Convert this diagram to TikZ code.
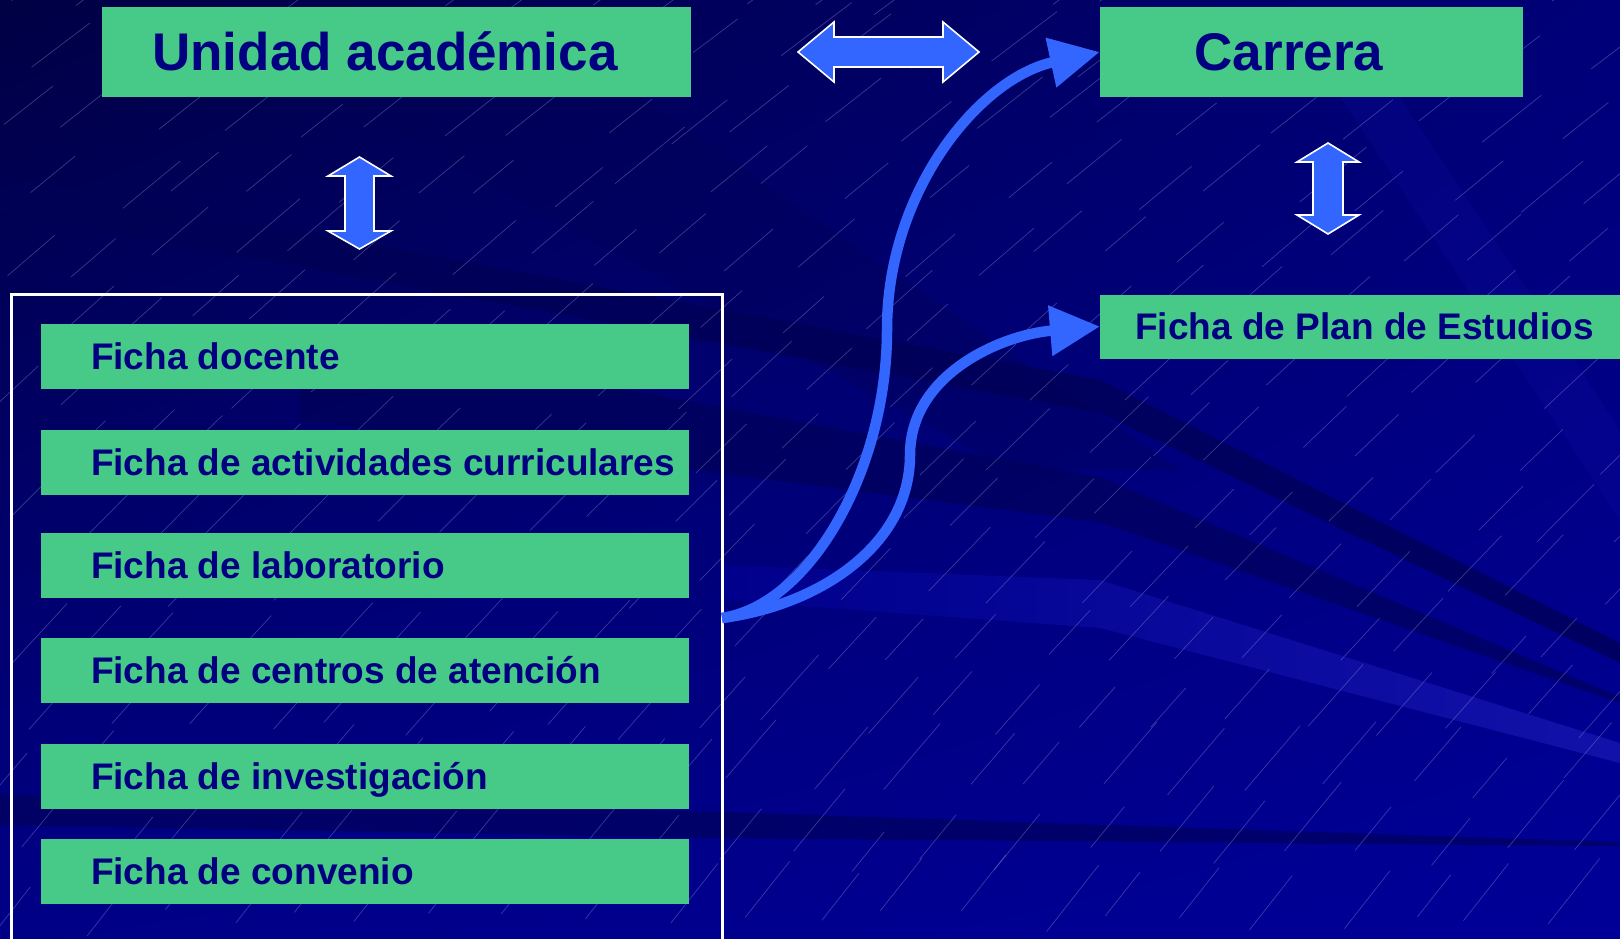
\documentclass[tikz,border=0pt]{standalone}
\usepackage{fontspec}
\setmainfont{Liberation Sans}
\usetikzlibrary{arrows.meta,shadings}
\definecolor{bgTL}{RGB}{0,0,68}
\definecolor{bgTR}{RGB}{0,0,120}
\definecolor{bgBL}{RGB}{0,0,135}
\definecolor{bgBR}{RGB}{0,0,152}
\definecolor{bandDark}{RGB}{0,0,85}
\definecolor{bandLight}{RGB}{18,18,170}
\definecolor{bandFade}{RGB}{0,0,140}
\definecolor{rainc}{RGB}{150,150,215}
\definecolor{boxgreen}{RGB}{71,201,135}
\definecolor{navytext}{RGB}{0,0,128}
\definecolor{arrowblue}{RGB}{51,102,255}
\tikzset{
  greenbox/.style={fill=boxgreen, text=navytext, inner sep=0pt},
  headbox/.style={greenbox, font=\fontsize{53}{60}\selectfont\bfseries, text height=38pt, text depth=0pt, minimum height=90pt},
  fichabox/.style={greenbox, minimum width=648pt, minimum height=65pt, font=\fontsize{37}{44}\selectfont\bfseries, text height=26.5pt, text depth=0pt},
  planbox/.style={greenbox, minimum width=520pt, minimum height=64pt, font=\fontsize{37}{44}\selectfont\bfseries, text height=26.5pt, text depth=0pt},
  blockarrow/.style={fill=arrowblue, draw=white, line width=1.6pt, line join=miter},
  conn/.style={draw=arrowblue, line width=10.5pt, -{Triangle[length=50pt,width=48pt]}},
  groupframe/.style={draw=white, line width=3pt},
  rain/.style={draw=rainc, line width=0.7pt, opacity=0.38},
  band/.style={fill=bandDark, opacity=0.75}
}
\begin{document}
\begin{tikzpicture}[x=1pt,y=-1pt]
\useasboundingbox (0,0) rectangle (1620,939);
% background
\shade[upper left=bgTL, upper right=bgTR, lower left=bgBL, lower right=bgBR] (0,0) rectangle (1620,939);
\begin{scope}
\clip (0,0) rectangle (1620,939);
\fill[band, opacity=0.35] (330,97) -- (640,97) -- (1180,470) -- (1010,470) -- cycle;
\fill[band] (0,175) -- (1100,380) -- (1620,643) -- (1620,663) -- (1100,413) -- (0,212) -- cycle;
\fill[band, opacity=0.6] (300,330) -- (1100,477) -- (1620,697) -- (1620,703) -- (1100,522) -- (300,420) -- cycle;
\shade[left color=bandFade, right color=bandLight] (720,565) -- (1100,580) -- (1620,743) -- (1620,763) -- (1100,628) -- (720,600) -- cycle;
\fill[band, opacity=0.6] (0,795) -- (720,812) -- (1466,837) -- (1620,842) -- (1620,846) -- (1466,845) -- (720,838) -- (0,825) -- cycle;
\fill[bandLight, opacity=0.2] (1340,97) -- (1400,97) -- (1620,430) -- (1620,520) -- cycle;
\pgfmathsetseed{11}
\foreach \i in {0,...,22}{
  \foreach \j in {0,...,14}{
    \pgfmathsetmacro\rx{\i*74+mod(\j,2)*37+rand*18}
    \pgfmathsetmacro\ry{\j*66+rand*15}
    \pgfmathsetmacro\rl{50+rnd*40}
    \pgfmathsetmacro\ra{-36-16*\ry/939}
    \draw[rain] (\rx,\ry) -- ++(\ra:\rl);
  }
}
\end{scope}
% top boxes
\node[headbox, minimum width=589pt] (ua) at (396.5,52) {\hspace*{-23pt}Unidad académica};
\node[headbox, minimum width=423pt] (carrera) at (1311.5,52) {\hspace*{-45pt}Carrera};
\node[planbox, anchor=west] (plan) at (1100,326.5) {\makebox[450pt][l]{Ficha de Plan de Estudios}};
% group frame
\draw[groupframe] (11,939) |- (722,294) -- (722,939);
\coordinate (src) at (722,618);
% ficha boxes
\node[fichabox] (f1) at (365,356.5) {\makebox[548pt][l]{Ficha docente}};
\node[fichabox] (f2) at (365,462) {\makebox[548pt][l]{Ficha de actividades curriculares}};
\node[fichabox] (f3) at (365,565) {\makebox[548pt][l]{Ficha de laboratorio}};
\node[fichabox] (f4) at (365,670.5) {\makebox[548pt][l]{Ficha de centros de atención}};
\node[fichabox] (f5) at (365,776) {\makebox[548pt][l]{Ficha de investigación}};
\node[fichabox] (f6) at (365,871) {\makebox[548pt][l]{Ficha de convenio}};
% block double arrows
\draw[blockarrow] (798,52) -- (834,22) -- (834,37) -- (943,37) -- (943,22) -- (979,52) -- (943,82) -- (943,67) -- (834,67) -- (834,82) -- cycle;
\draw[blockarrow] (359.5,157) -- (391,176) -- (374,176) -- (374,231) -- (391,231) -- (359.5,249) -- (328,231) -- (345,231) -- (345,176) -- (328,176) -- cycle;
\draw[blockarrow] (1328,143) -- (1359,162) -- (1343,162) -- (1343,215) -- (1359,215) -- (1328,234) -- (1297,215) -- (1313,215) -- (1313,162) -- (1297,162) -- cycle;
% curved connectors
\draw[conn] (src) .. controls (810,605) and (887,470) .. (887,330) .. controls (887,190) and (980,78) .. (carrera.west);
\draw[conn] (src) .. controls (820,605) and (910,545) .. (910,455) .. controls (910,375) and (1000,335) .. (plan.west);
\end{tikzpicture}
\end{document}
